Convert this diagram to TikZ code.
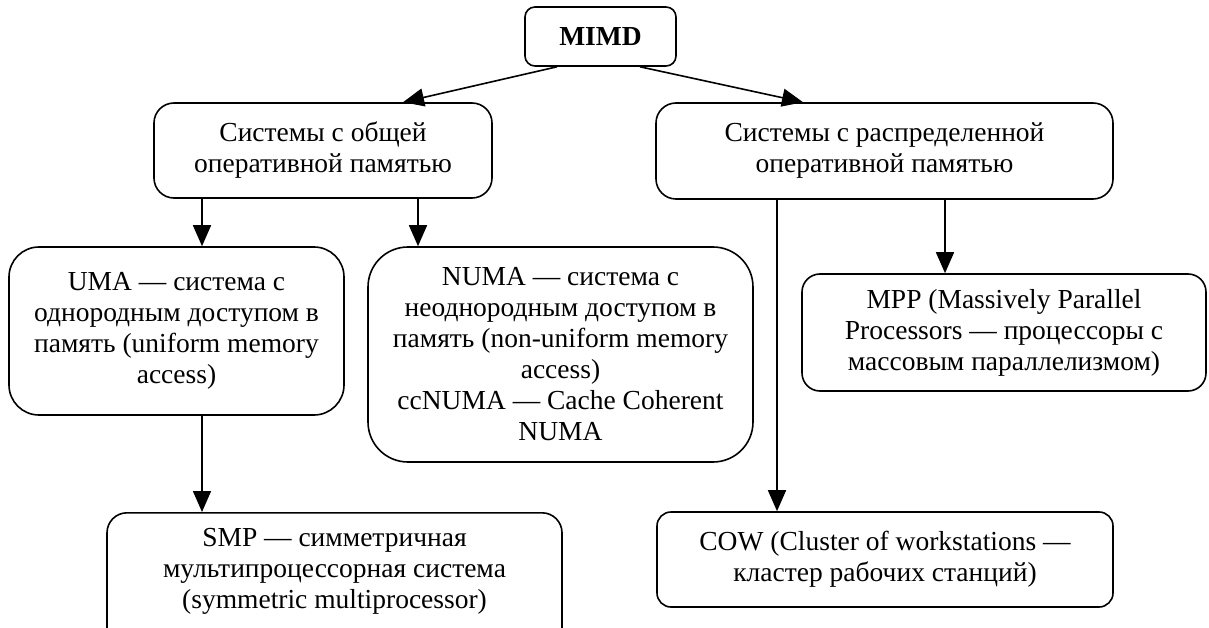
\documentclass[tikz,border=0pt]{standalone}
\usepackage{fontspec}
\setmainfont{Liberation Serif}
\usetikzlibrary{arrows.meta}
\begin{document}
\begin{tikzpicture}[x=1pt,y=-1pt,
  box/.style={draw, line width=1.6pt, inner sep=0pt, align=center,
    font=\fontsize{27.5}{31}\selectfont},
  arr/.style={line width=1.6pt, -{Triangle[length=21pt,width=18pt]}}]
\useasboundingbox (0,0) rectangle (1209,628);
% nodes
\node[box, rounded corners=10pt, minimum width=151pt, minimum height=59pt] (mimd) at (600.5,36.5) {\textbf{MIMD}};
\node[box, rounded corners=20pt, minimum width=338pt, minimum height=95pt] (lm) at (323,150.5) {Системы с общей\\оперативной памятью};
\node[box, rounded corners=20pt, minimum width=457pt, minimum height=96pt] (rm) at (884.5,151) {Системы с распределенной\\оперативной памятью};
\node[box, rounded corners=30pt, minimum width=335pt, minimum height=168pt] (uma) at (176.5,331) {UMA — система с\\однородным доступом в\\память (uniform memory\\access)};
\node[box, rounded corners=40pt, minimum width=385pt, minimum height=215pt] (numa) at (560.5,354.5) {NUMA — система с\\неоднородным доступом в\\память (non-uniform memory\\access)\\ccNUMA — Cache Coherent\\NUMA};
\node[box, rounded corners=18pt, minimum width=404pt, minimum height=117pt] (mpp) at (1004,332.5) {MPP (Massively Parallel\\Processors — процессоры с\\массовым параллелизмом)};
\node[box, rounded corners=20pt, minimum width=455pt, minimum height=140pt, anchor=north] (smp) at (334.5,512) {SMP — симметричная\\мультипроцессорная система\\(symmetric multiprocessor)\\[-2pt]\mbox{}};
\node[box, rounded corners=14pt, minimum width=456pt, minimum height=95pt] (cow) at (885,559.5) {COW (Cluster of workstations —\\кластер рабочих станций)};
% x positions of vertical connectors
\coordinate (xa) at (202,0);
\coordinate (xb) at (418,0);
\coordinate (xc) at (777,0);
\coordinate (xd) at (945,0);
% connectors
\draw[arr] ([xshift=-43.5pt]mimd.south) -- ([xshift=80pt]lm.north);
\draw[arr] ([xshift=39.5pt]mimd.south) -- ([xshift=-81.5pt]rm.north);
\draw[arr] (lm.south -| xa) -- (uma.north -| xa);
\draw[arr] (lm.south -| xb) -- (numa.north -| xb);
\draw[arr] (rm.south -| xc) -- (cow.north -| xc);
\draw[arr] (rm.south -| xd) -- (mpp.north -| xd);
\draw[arr] (uma.south -| xa) -- (smp.north -| xa);
\end{tikzpicture}
\end{document}
